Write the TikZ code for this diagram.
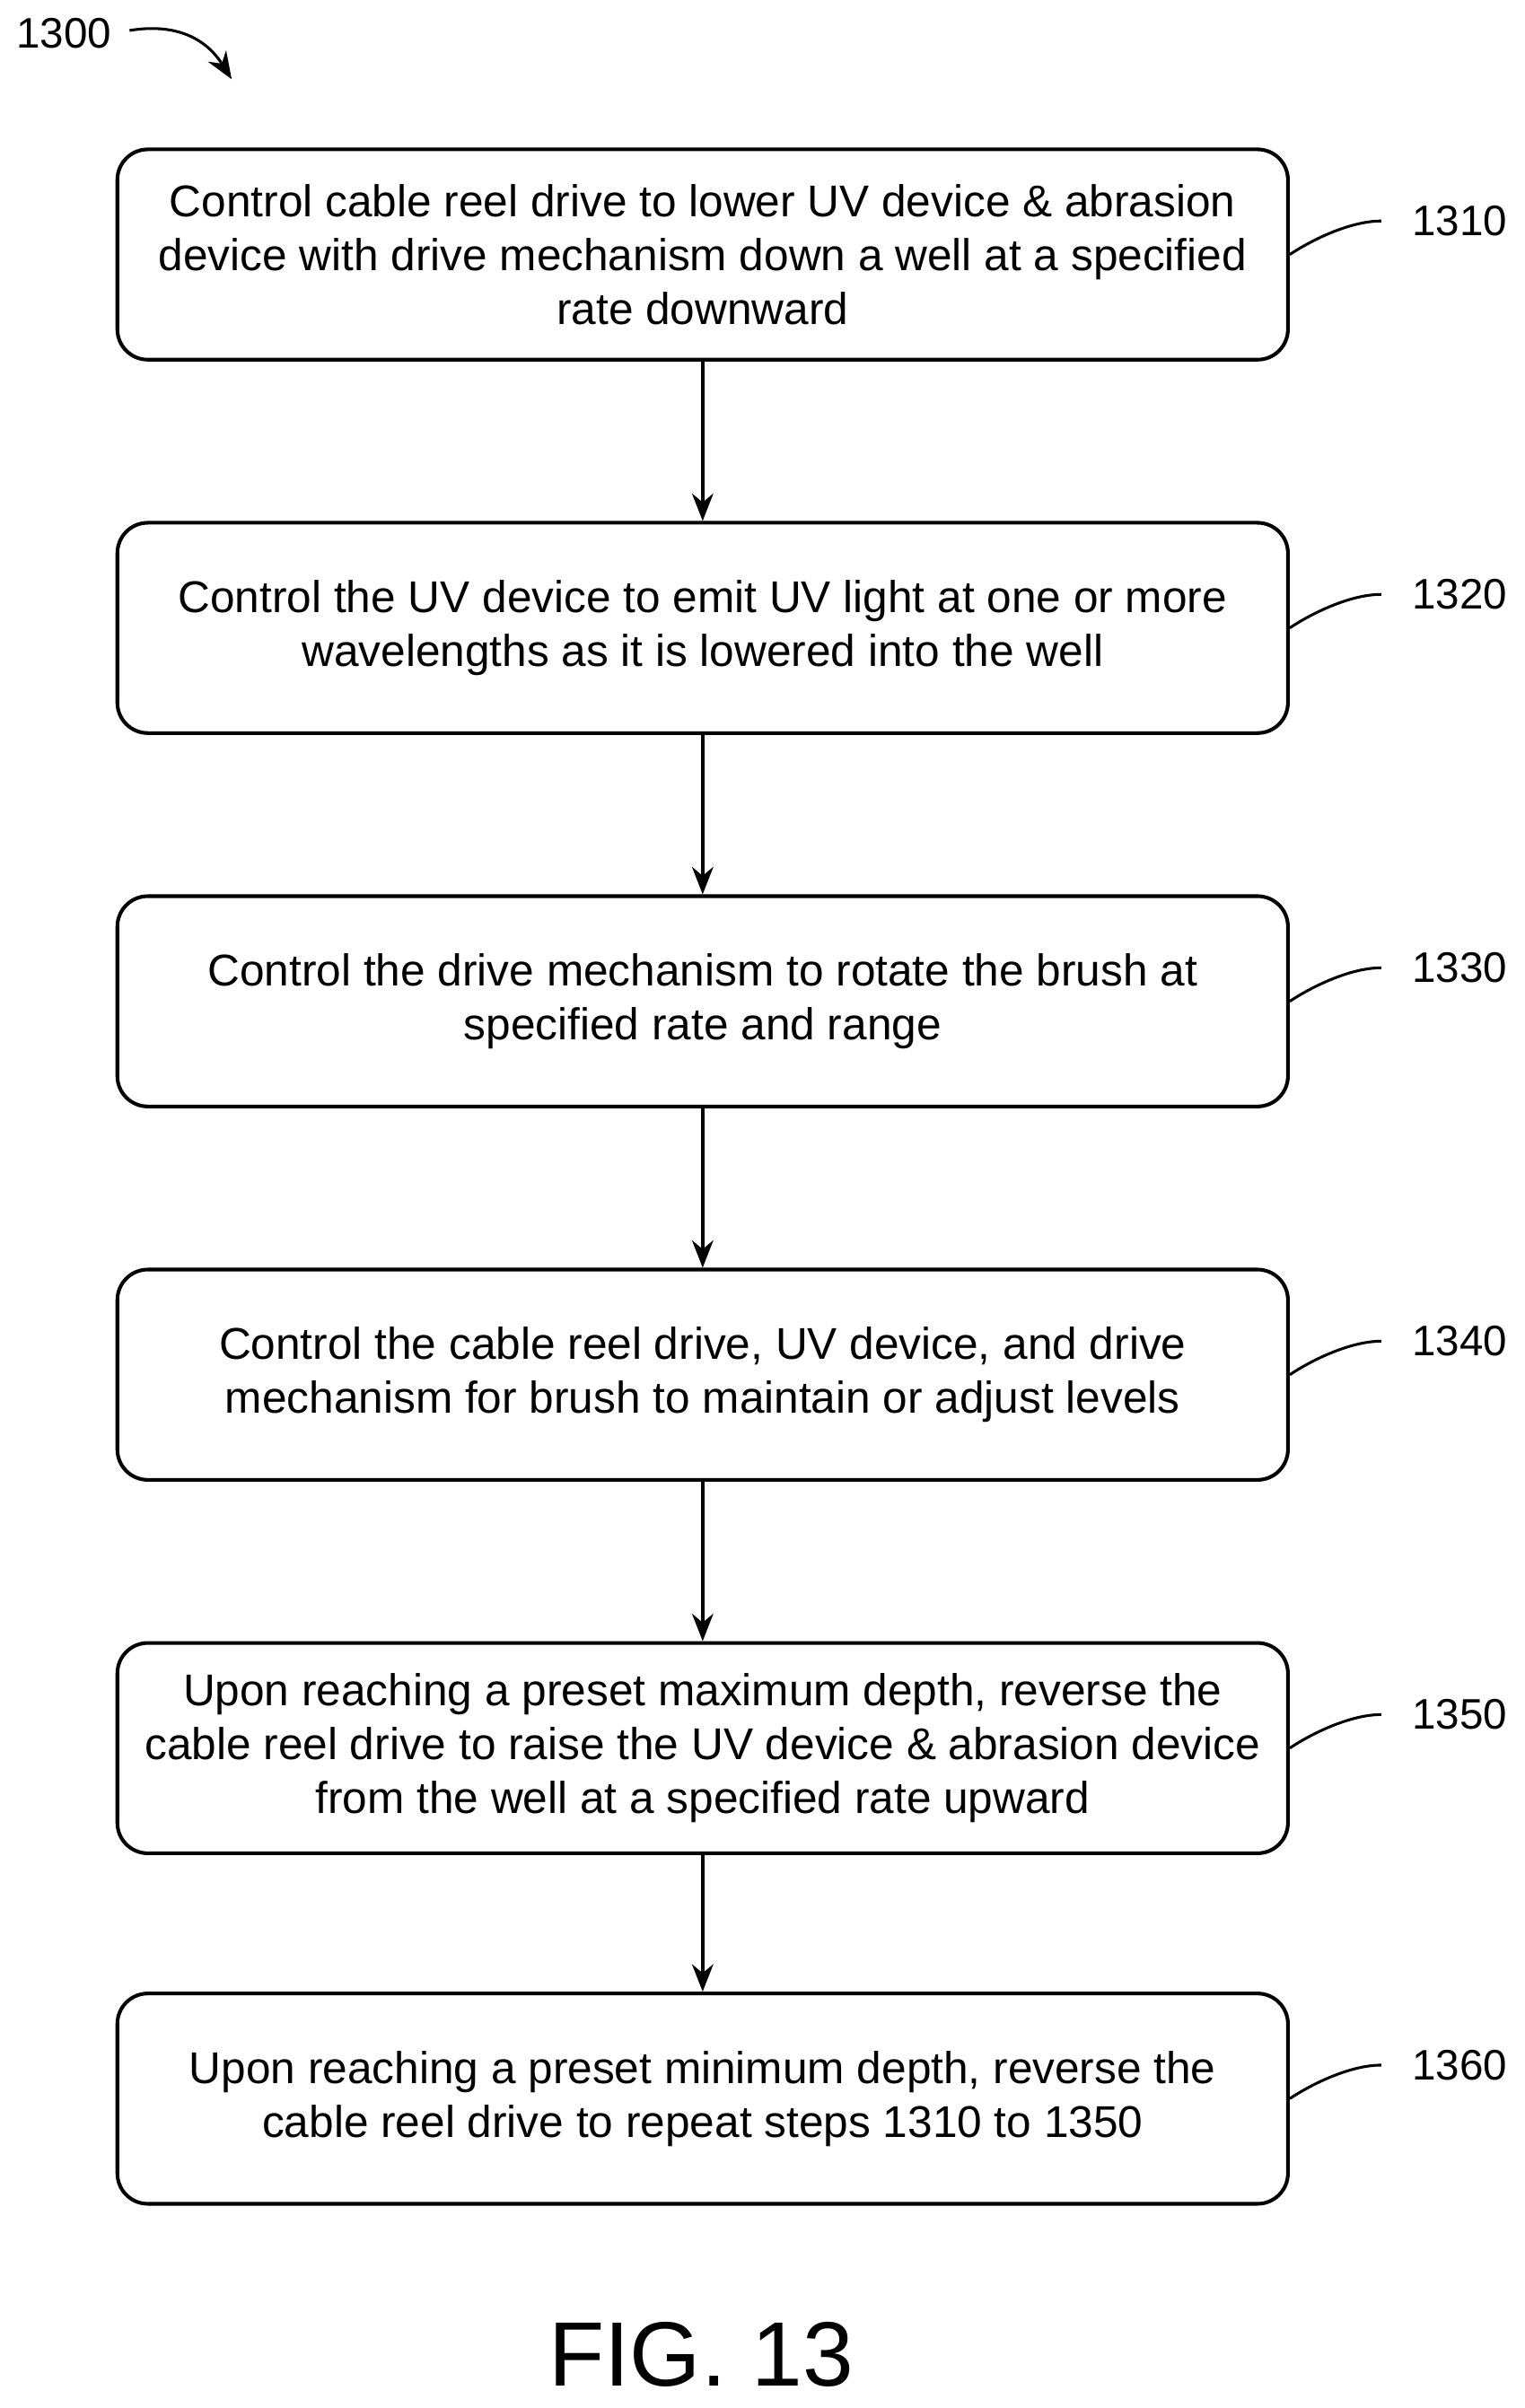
\documentclass[tikz,border=0pt]{standalone}
\usepackage{fontspec}
\setmainfont{Liberation Sans}
\usetikzlibrary{arrows.meta}
\begin{document}
\begin{tikzpicture}[x=0.5pt,y=-0.5pt,
  box/.style={draw,line width=1.2pt,rounded corners=10pt,minimum width=384pt,minimum height=69pt,align=center,font=\fontsize{14.6}{17.6}\selectfont,inner sep=0pt},
  lbl/.style={font=\fontsize{14}{15}\selectfont,anchor=west,inner sep=0pt},
  arr/.style={-{Stealth[length=9pt,width=7pt]},line width=1pt}]
\useasboundingbox (0,0) rectangle (1000,1580);
\node[box] (b1) at (461,167) {Control cable reel drive to lower UV device \& abrasion\\device with drive mechanism down a well at a specified\\rate downward};
\node[box] (b2) at (461,412) {Control the UV device to emit UV light at one or more\\wavelengths as it is lowered into the well};
\node[box] (b3) at (461,657) {Control the drive mechanism to rotate the brush at\\specified rate and range};
\node[box] (b4) at (461,902) {Control the cable reel drive, UV device, and drive\\mechanism for brush to maintain or adjust levels};
\node[box] (b5) at (461,1147) {Upon reaching a preset maximum depth, reverse the\\cable reel drive to raise the UV device \& abrasion device\\from the well at a specified rate upward};
\node[box] (b6) at (461,1377) {Upon reaching a preset minimum depth, reverse the\\cable reel drive to repeat steps 1310 to 1350};
\foreach \a/\b in {b1/b2,b2/b3,b3/b4,b4/b5,b5/b6} \draw[arr] (\a) -- (\b);
\foreach \n/\t in {b1/1310,b2/1320,b3/1330,b4/1340,b5/1350,b6/1360}{
  \node[lbl] (l\t) at ([xshift=40pt,yshift=11pt]\n.east) {\t};
  \draw[line width=0.9pt] ([yshift=0pt]\n.east) .. controls +(15,-10) and +(-20,0) .. ([xshift=-10pt]l\t.west);
}
\node[lbl,anchor=center] (l1300) at (42,22) {1300};
\coordinate (c1300) at (152,52);
\draw[arr,line width=0.9pt] (85,20) .. controls (115,15) and (135,25) .. (c1300);
\node[font=\fontsize{30}{32}\selectfont] (fig) at (460,1545) {FIG. 13};
\end{tikzpicture}
\end{document}
